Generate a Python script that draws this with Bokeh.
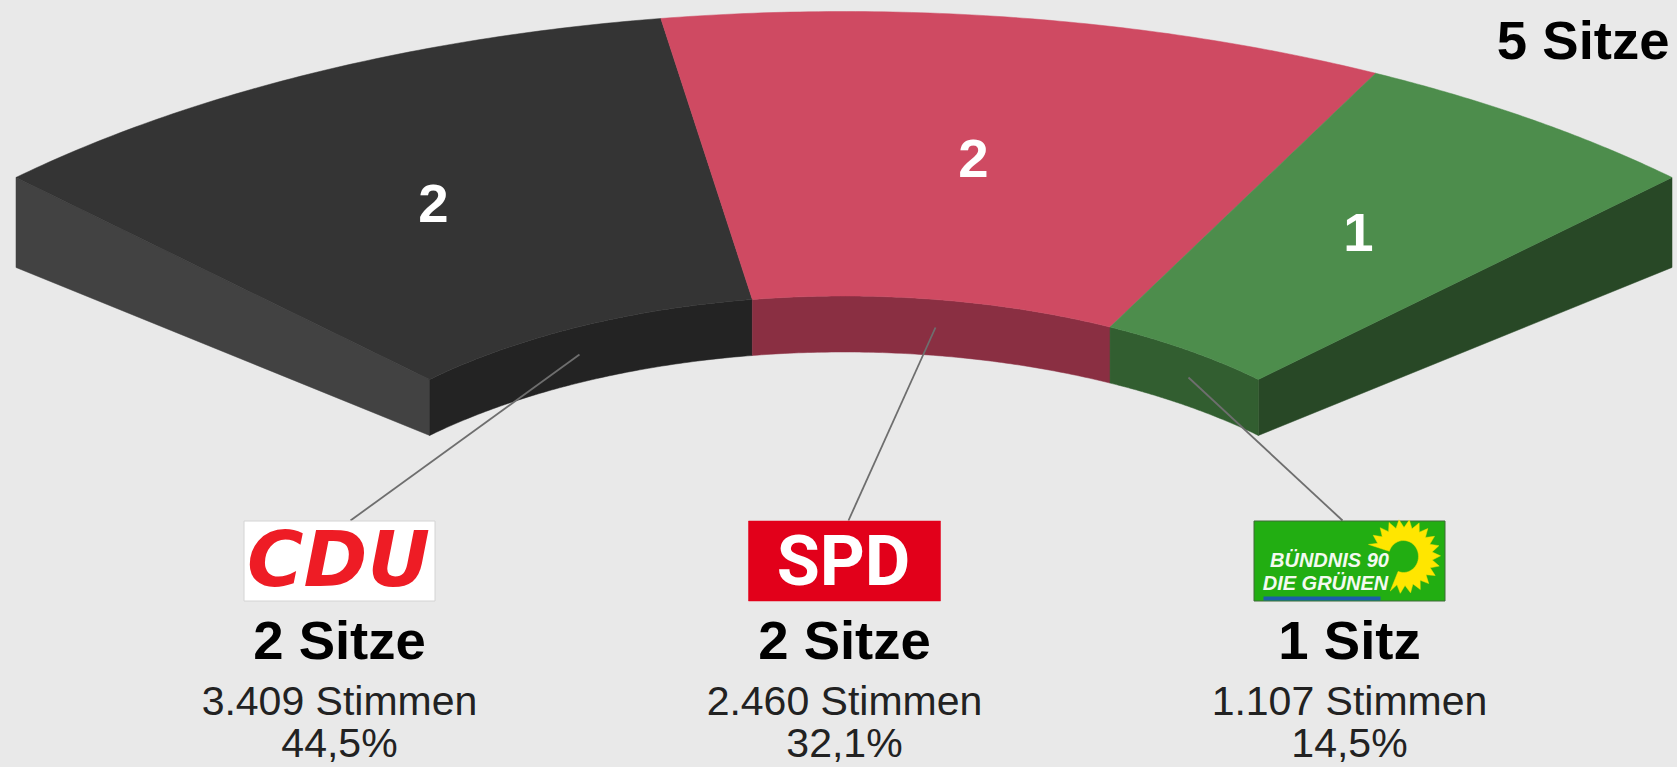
import numpy as np
from bokeh.plotting import figure
from bokeh.models import Range1d
from bokeh.core.properties import value
from bokeh.embed import file_html
from bokeh.resources import INLINE

# data
parties = ["CDU", "SPD", "GRÜNE"]
seats = [2, 2, 1]
seat_labels = ["2 Sitze", "2 Sitze", "1 Sitz"]
vote_labels = ["3.409 Stimmen", "2.460 Stimmen", "1.107 Stimmen"]
pct_labels = ["44,5%", "32,1%", "14,5%"]
total_label = "5 Sitze"

top_colors = ["#343434", "#CF4A62", "#4D8D4C"]
inner_colors = ["#232323", "#8A2F42", "#325E30"]
left_side_color = "#424242"
right_side_color = "#284826"
BG = "#E9E9E9"
FONT = value("Liberation Sans")
K = 0.36   # from wanted baseline to the text's middle, in font sizes

# projection of the half-ring, in reference pixels
CX = 843.5
A_OUT, B_OUT, CY_OUT = 1171, 566.6, 577.6
A_IN, B_IN, CY_IN = 586, 285, 580.5
SPAN = 90.0
D_OUT, D_IN = 90, 56

W, H = 1677, 767
p = figure(width=W, height=H, output_backend="svg", toolbar_location=None,
           x_range=Range1d(0, W), y_range=Range1d(H, 0),
           x_axis_type=None, y_axis_type=None,
           background_fill_color=BG, border_fill_color=BG,
           min_border=0, outline_line_color=None)
p.grid.visible = False


def outer(t0, t1):
    t = np.radians(np.linspace(t0, t1, 80))
    return CX + A_OUT * np.sin(t), CY_OUT - B_OUT * np.cos(t)


def inner(t0, t1):
    t = np.radians(np.linspace(t0, t1, 80))
    return CX + A_IN * np.sin(t), CY_IN - B_IN * np.cos(t)


def label(x, base, text, color, size, font=FONT, style="normal", align="center"):
    p.text(x, [b - K * size for b in base], text=text, text_color=color, text_font=font,
           text_font_style=style, text_font_size=f"{size}px", text_align=align,
           text_baseline="middle")


edges = -SPAN / 2 + np.concatenate([[0], np.cumsum(seats)]) / sum(seats) * SPAN

# side faces
for edge, color in ((edges[0], left_side_color), (edges[-1], right_side_color)):
    ox, oy = outer(edge, edge)
    ix, iy = inner(edge, edge)
    p.patch([ox[0], ix[0], ix[0], ox[0]], [oy[0], iy[0], iy[0] + D_IN, oy[0] + D_OUT],
            fill_color=color, line_color=color, line_width=0.5)

# inner faces and top faces
for i in range(len(seats)):
    x0, y0 = inner(edges[i], edges[i + 1])
    p.patch(np.r_[x0, x0[::-1]], np.r_[y0, y0[::-1] + D_IN],
            fill_color=inner_colors[i], line_color=inner_colors[i], line_width=0.5)
for i in range(len(seats)):
    xo, yo = outer(edges[i], edges[i + 1])
    xi, yi = inner(edges[i + 1], edges[i])
    p.patch(np.r_[xo, xi], np.r_[yo, yi],
            fill_color=top_colors[i], line_color=top_colors[i], line_width=0.5)

# leader lines
leader_start = [(579, 354), (935, 327), (1188, 377)]
leader_end = [(350, 520), (848, 520), (1342, 520)]
for s, e in zip(leader_start, leader_end):
    p.line([s[0], e[0]], [s[1], e[1]], line_color="#6E6E6E", line_width=1.8)

# seat numbers on the slices
label([433, 973, 1358], [223, 178, 252], [str(s) for s in seats], "#FFFFFF", 54.5, style="bold")
label([1669], [60], [total_label], "#000000", 54.5, style="bold", align="right")

# party blocks
col_x = [339, 844, 1349]
label(col_x, [660] * 3, seat_labels, "#000000", 54.5, style="bold")
label(col_x, [715] * 3, vote_labels, "#222222", 41)
label(col_x, [757] * 3, pct_labels, "#222222", 41)

# logos
T, B = 520.5, 600.5
p.quad(left=[243.5], right=[434.5], top=[T], bottom=[B], fill_color="#FFFFFF",
       line_color="#D4D4D4", line_width=1)
label([338], [587], ["CDU"], "#EE1C25", 77, font=value("DejaVu Sans"), style="bold italic")

p.quad(left=[748], right=[940], top=[T], bottom=[B], fill_color="#E2001A",
       line_color="#E2001A", line_width=0.5)
label([843], [586], ["SPD"], "#FFFFFF", 70, font=value("Roboto"), style="bold")

p.quad(left=[1253.5], right=[1444.5], top=[T], bottom=[B], fill_color="#22AE12",
       line_color="#3E6B36", line_width=1)
p.quad(left=[1263], right=[1380], top=[596], bottom=[600], fill_color="#1A5FA8", line_color=None)

FX, FY = 1403, 556
ang = np.radians(np.linspace(161, -111, 35))
rad = np.where(np.arange(ang.size) % 2 == 0, 37.0, 29.0)
flower_x = FX + rad * np.cos(ang)
flower_y = FY - rad * np.sin(ang)
hole_ang = ang[::-1]
hole_x = FX + 15 * np.cos(hole_ang)
hole_y = FY - 16 * np.sin(hole_ang)
p.patch(np.r_[flower_x, hole_x], np.r_[flower_y, hole_y], fill_color="#FFE600",
        line_color="#F5E100", line_width=0.5)
label([1329, 1325], [567, 590], ["BÜNDNIS 90", "DIE GRÜNEN"], "#F4FAF0", 20, style="bold italic")

html = file_html(p, INLINE)
html = html.replace("</head>", "<style>html,body{background:%s;}</style></head>" % BG, 1)
open("out.html", "w").write(html)
